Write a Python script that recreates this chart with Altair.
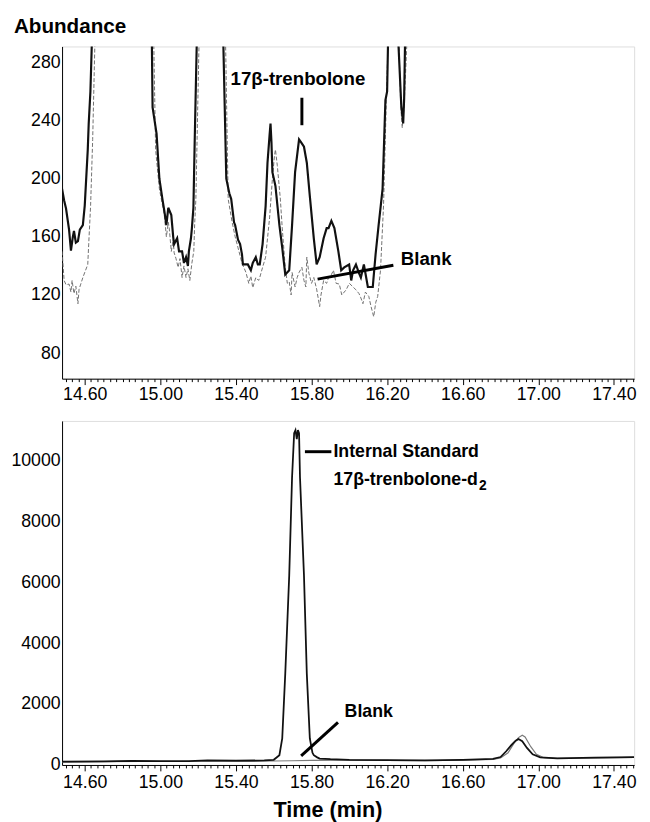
import altair as alt
import pandas as pd

# ---------------- data ----------------
# Top panel: sample trace (thick black)
top_sample_t = [14.480, 14.491, 14.501, 14.517, 14.527, 14.537, 14.543, 14.553, 14.564, 14.574,
                14.590, 14.600, 14.616, 14.621, 14.630, 14.638, 14.800, 14.955, 14.959, 14.980,
                14.995, 15.011, 15.021, 15.032, 15.042, 15.058, 15.068, 15.073, 15.089, 15.099,
                15.115, 15.125, 15.136, 15.146, 15.151, 15.162, 15.167, 15.175, 15.182, 15.193,
                15.260, 15.333, 15.349, 15.365, 15.375, 15.390, 15.396, 15.411, 15.422, 15.432,
                15.437, 15.453, 15.463, 15.479, 15.489, 15.505, 15.516, 15.526, 15.541, 15.557,
                15.567, 15.578, 15.583, 15.588, 15.593, 15.609, 15.630, 15.645, 15.661, 15.682,
                15.697, 15.713, 15.734, 15.745, 15.760, 15.775, 15.791, 15.812, 15.827, 15.843,
                15.864, 15.880, 15.890, 15.905, 15.921, 15.942, 15.957, 15.973, 15.999, 16.010,
                16.020, 16.035, 16.051, 16.061, 16.077, 16.098, 16.124, 16.139, 16.155, 16.176,
                16.191, 16.200, 16.205, 16.240, 16.259, 16.275, 16.285, 16.290, 16.295, 16.300]
top_sample_a = [193, 185, 179.5, 165, 150.5, 160, 164, 156, 157, 165,
                168, 181.5, 220, 238, 260, 295, 3000, 295, 249, 231,
                200, 186, 178, 168, 180, 175, 160, 155, 159, 150,
                150, 142, 146, 140, 150, 159, 166, 180, 227, 295,
                3000, 295, 200, 190, 186, 170, 168, 158, 155, 148,
                141, 141, 141, 137, 142, 146, 141, 141, 155, 181,
                211, 230, 238, 225, 204.5, 195, 168, 152.5, 134, 137,
                168, 204.5, 227, 225, 222, 211, 188, 159, 141, 146,
                159, 166, 166, 171, 166, 150, 137, 139, 141, 130,
                137, 141, 135, 132, 141, 125.5, 125.5, 148, 168, 193,
                254, 260, 295, 3000, 295, 250, 238, 255, 295, 600]

# Top panel: blank trace (thin grey dashed)
top_blank_t = [14.480, 14.491, 14.501, 14.517, 14.527, 14.533, 14.543, 14.553, 14.564, 14.570,
               14.579, 14.590, 14.616, 14.621, 14.631, 14.642, 14.654, 14.810, 14.965, 14.975,
               14.995, 15.011, 15.021, 15.032, 15.042, 15.047, 15.058, 15.068, 15.073, 15.083,
               15.094, 15.104, 15.115, 15.125, 15.136, 15.146, 15.156, 15.167, 15.177, 15.182,
               15.188, 15.205, 15.270, 15.345, 15.359, 15.380, 15.396, 15.411, 15.432, 15.453,
               15.468, 15.479, 15.489, 15.505, 15.520, 15.526, 15.541, 15.557, 15.578, 15.593,
               15.604, 15.609, 15.619, 15.635, 15.645, 15.661, 15.672, 15.682, 15.692, 15.697,
               15.713, 15.724, 15.734, 15.749, 15.760, 15.770, 15.775, 15.786, 15.800, 15.812,
               15.827, 15.843, 15.850, 15.864, 15.880, 15.890, 15.905, 15.916, 15.930, 15.947,
               15.960, 15.983, 16.000, 16.020, 16.035, 16.051, 16.061, 16.072, 16.085, 16.103,
               16.115, 16.129, 16.140, 16.150, 16.165, 16.181, 16.195, 16.205, 16.240, 16.262,
               16.272, 16.280, 16.290, 16.305, 16.310]
top_blank_a = [150, 130, 127, 127.5, 122, 130, 121, 126, 114, 124,
               127.5, 132, 141, 155, 181.5, 227, 295, 3000, 295, 220,
               193, 182, 175, 160, 170, 166, 150, 158, 149, 145,
               139, 145, 132, 140, 132, 138, 130, 142, 150, 170,
               186, 295, 3000, 295, 186, 170, 160, 152.5, 142, 135.5,
               128, 133, 125, 132, 130, 132, 139, 146, 173, 200,
               216, 220, 209, 186, 166, 139, 128, 129, 120, 135.5,
               125.5, 132, 135.5, 139, 130, 125.5, 146, 135, 128, 132,
               124, 112, 120, 130, 128, 132, 134, 137, 128, 127.5,
               120, 123.5, 128, 125.5, 123.5, 121, 118, 114, 122, 119,
               112, 105, 115, 119, 137, 181.5, 250, 295, 3000, 295,
               250, 235, 250, 295, 600]

# Bottom panel: sample trace (black)
bot_sample_t = [14.48, 14.70, 14.85, 15.00, 15.15, 15.25, 15.40, 15.55, 15.60, 15.630,
                15.645, 15.661, 15.682, 15.697, 15.708, 15.715, 15.722, 15.728, 15.734, 15.739,
                15.760, 15.775, 15.791, 15.805, 15.812, 15.830, 15.843, 15.90, 16.00, 16.20,
                16.40, 16.60, 16.76, 16.80, 16.83, 16.857, 16.880, 16.895, 16.915, 16.94,
                16.97, 17.01, 17.10, 17.30, 17.507]
bot_sample_a = [110, 120, 135, 125, 130, 150, 140, 150, 170, 320,
                870, 3000, 6230, 9450, 10900, 11000, 10700, 11000, 10900, 9450,
                6230, 3000, 870, 400, 320, 250, 210, 190, 170, 160,
                150, 170, 200, 260, 450, 650, 800, 850, 780, 560,
                350, 250, 220, 240, 260]

# Bottom panel: blank trace (grey)
bot_blank_t = [14.48, 14.70, 14.90, 15.10, 15.25, 15.40, 15.60, 15.70, 15.80, 16.00,
               16.20, 16.40, 16.60, 16.76, 16.80, 16.84, 16.87, 16.895, 16.915, 16.93,
               16.96, 16.99, 17.03, 17.10, 17.30, 17.507]
bot_blank_a = [90, 110, 120, 115, 130, 120, 130, 140, 150, 160,
               150, 140, 160, 180, 230, 400, 700, 900, 980, 920,
               600, 350, 240, 220, 230, 250]

# Axis tick labels
x_labels = [14.60, 15.00, 15.40, 15.80, 16.20, 16.60, 17.00, 17.40]
y_top_labels = [80, 120, 160, 200, 240, 280]
y_bot_labels = [0, 2000, 4000, 6000, 8000, 10000]

# Annotations
top_title = pd.DataFrame({"t": [15.728], "a": [268.5], "label": ["17β-trenbolone"]})
top_blank_lbl = pd.DataFrame({"t": [16.272], "a": [144.4], "label": ["Blank"]})
top_rules = pd.DataFrame({"t1": [15.749, 15.832], "t2": [15.749, 16.233],
                          "a1": [255.7, 130.9], "a2": [236.8, 140.4]})
bot_texts = pd.DataFrame({"t": [15.916, 15.916, 15.975], "a": [10290, 9355, 1750],
                          "label": ["Internal Standard", "17β-trenbolone-d", "Blank"]})
bot_sub = pd.DataFrame({"t": [15.916], "a": [9355], "label": ["2"]})
bot_rules = pd.DataFrame({"t1": [15.765, 15.745], "t2": [15.905, 15.940],
                          "a1": [10290, 300], "a2": [10290, 1400]})

# ---------------- chart ----------------
FONT = "Liberation Sans"
minor_ticks = [round(14.5 + k / 30, 4) for k in range(0, 91)]
is_major = "abs((datum.value-14.6)/0.4 - round((datum.value-14.6)/0.4)) < 0.01"

xscale = alt.Scale(domain=[14.48, 17.507], nice=False, zero=False)
yscale_top = alt.Scale(domain=[62.4, 291], nice=False, zero=False)
yscale_bot = alt.Scale(domain=[0, 11300], nice=False, zero=False)


def xaxis(title=None, pad=1):
    kw = dict(values=minor_ticks,
              labelExpr=f"{is_major} ? format(datum.value, '.2f') : ''",
              tickSize={"condition": {"test": is_major, "value": 6}, "value": 3},
              labelOverlap=False, labelFlush=False, labelPadding=pad,
              labelFont=FONT, labelFontSize=18, labelColor="black",
              domainColor="black", tickColor="black", grid=False)
    if title:
        kw.update(title=title, titleFont=FONT, titleFontSize=22, titleFontWeight="bold",
                  titleColor="black", titlePadding=8, titleX=270, titleAlign="center")
    else:
        kw.update(title=None)
    return alt.Axis(**kw)


def yaxis(vals):
    return alt.Axis(values=vals, format="d", tickSize=0, labelPadding=2,
                    labelFont=FONT, labelFontSize=18, labelColor="black",
                    domainColor="black", grid=False, title=None)


xa_top = xaxis()
xa_bot = xaxis("Time (min)", pad=3)
ya_top = yaxis(y_top_labels)
ya_bot = yaxis(y_bot_labels)

df_ts = pd.DataFrame({"t": top_sample_t, "a": top_sample_a})
df_tb = pd.DataFrame({"t": top_blank_t, "a": top_blank_a})
df_bs = pd.DataFrame({"t": bot_sample_t, "a": bot_sample_a})
df_bb = pd.DataFrame({"t": bot_blank_t, "a": bot_blank_a})


def enc_xy(xa, ys, ya):
    return dict(x=alt.X("t:Q", scale=xscale, axis=xa),
                y=alt.Y("a:Q", scale=ys, axis=ya))


def text_layer(df, xa, ys, ya, align, size=19, dx=0, dy=0):
    return alt.Chart(df).mark_text(font=FONT, fontSize=size, fontWeight="bold",
                                   baseline="middle", align=align, color="black",
                                   dx=dx, dy=dy).encode(
        x=alt.X("t:Q", scale=xscale, axis=xa),
        y=alt.Y("a:Q", scale=ys, axis=ya), text="label:N")


# --- top panel
tb = alt.Chart(df_tb).mark_line(clip=True, color="#707070", strokeWidth=1,
                                strokeDash=[4, 2]).encode(**enc_xy(xa_top, yscale_top, ya_top))
ts = alt.Chart(df_ts).mark_line(clip=True, color="#111111", strokeWidth=2.2
                                ).encode(**enc_xy(xa_top, yscale_top, ya_top))
tr = alt.Chart(top_rules).mark_rule(color="black", strokeWidth=3).encode(
    x=alt.X("t1:Q", scale=xscale, axis=xa_top), x2="t2:Q",
    y=alt.Y("a1:Q", scale=yscale_top, axis=ya_top), y2="a2:Q")
tt1 = text_layer(top_title, xa_top, yscale_top, ya_top, "center")
tt2 = text_layer(top_blank_lbl, xa_top, yscale_top, ya_top, "left")
ab = alt.Chart(pd.DataFrame({"label": ["Abundance"]})).mark_text(
    font=FONT, fontSize=21, fontWeight="bold", align="left", baseline="middle",
    color="black").encode(x=alt.value(-49), y=alt.value(-20), text="label:N")

top = alt.layer(tb, ts, tr, tt1, tt2, ab).properties(width=582, height=338)

# --- bottom panel
bb = alt.Chart(df_bb).mark_line(clip=True, color="#7a7a7a", strokeWidth=1.2
                                ).encode(**enc_xy(xa_bot, yscale_bot, ya_bot))
bs = alt.Chart(df_bs).mark_line(clip=True, color="#111111", strokeWidth=1.8
                                ).encode(**enc_xy(xa_bot, yscale_bot, ya_bot))
br = alt.Chart(bot_rules).mark_rule(color="black", strokeWidth=3).encode(
    x=alt.X("t1:Q", scale=xscale, axis=xa_bot), x2="t2:Q",
    y=alt.Y("a1:Q", scale=yscale_bot, axis=ya_bot), y2="a2:Q")
bt = text_layer(bot_texts, xa_bot, yscale_bot, ya_bot, "left", size=18)
bsub = text_layer(bot_sub, xa_bot, yscale_bot, ya_bot, "left", size=14, dx=148, dy=6)

bottom = alt.layer(bb, bs, br, bt, bsub).properties(width=582, height=350)

chart = alt.vconcat(top, bottom, spacing=16).properties(
    padding={"left": 2, "top": 0, "right": 5, "bottom": 0}
).configure_view(stroke=None).configure(background="white")

chart.save("out.html", embed_options={"renderer": "svg", "actions": False})
